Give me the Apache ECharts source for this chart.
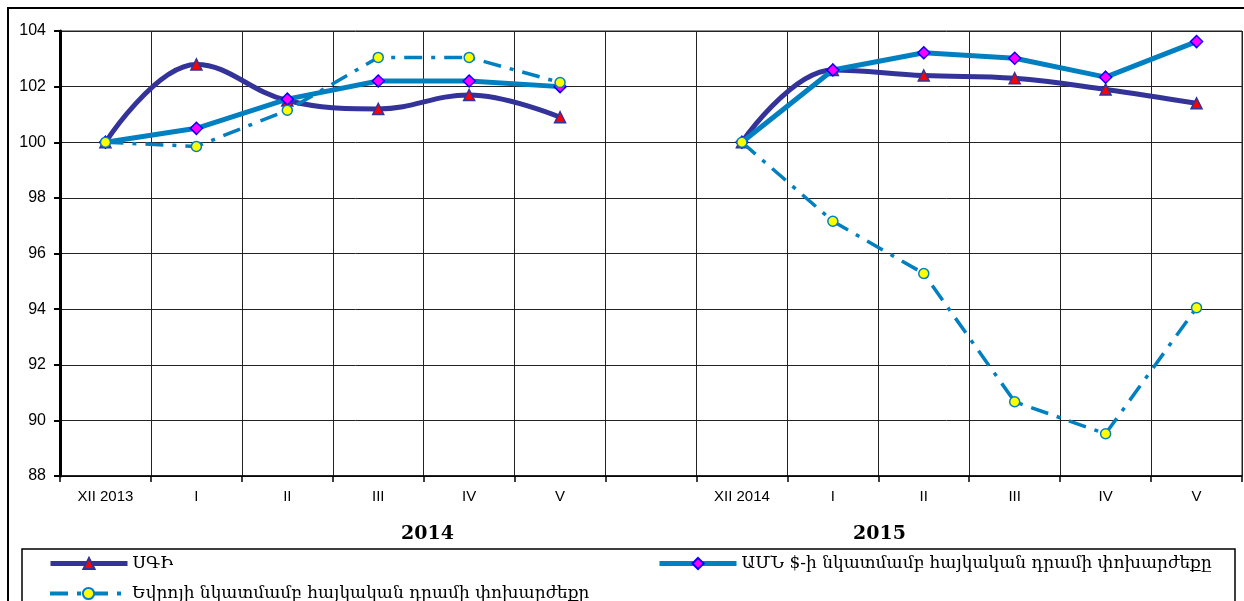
<!DOCTYPE html>
<html>
<head>
<meta charset="utf-8">
<script src="https://cdn.jsdelivr.net/npm/echarts@6/dist/echarts.min.js"></script>
<style>
html,body{margin:0;padding:0;background:#fff;}
#c{width:1244px;height:601px;}
</style>
</head>
<body>
<div id="c"></div>
<script>
var categories = ['XII 2013', 'I', 'II', 'III', 'IV', 'V', '', 'XII 2014', 'I', 'II', 'III', 'IV', 'V'];
var cpiName = 'ՍԳԻ';
var usdName = 'ԱՄՆ $-ի նկատմամբ հայկական դրամի փոխարժեքը';
var eurName = 'Եվրոյի նկատմամբ հայկական դրամի փոխարժեքը';
var cpiValues = [100, 102.8, 101.5, 101.2, 101.7, 100.9, null, 100, 102.6, 102.4, 102.3, 101.9, 101.4];
var usdValues = [100, 100.5, 101.55, 102.2, 102.2, 102.0, null, 100, 102.6, 103.22, 103.02, 102.34, 103.62];
var eurValues = [100, 99.85, 101.15, 103.05, 103.05, 102.15, null, 100, 97.16, 95.28, 90.67, 89.52, 94.05];
var yearLabels = ['2014', '2015'];

var chart = echarts.init(document.getElementById('c'));
var legendFont = {fontFamily: 'DejaVu Serif', fontSize: 17, color: '#000'};
var option = {
  animation: false,
  backgroundColor: '#fff',
  grid: {left: 60, right: 2, top: 31, bottom: 125, show: true, borderColor: '#222', borderWidth: 1},
  xAxis: {
    type: 'category',
    data: categories,
    boundaryGap: true,
    axisLine: {show: true, lineStyle: {color: '#000', width: 1.5}},
    axisTick: {show: true, interval: 0, length: 6, lineStyle: {color: '#000', width: 1.5}},
    axisLabel: {interval: 0, fontFamily: 'Liberation Sans Narrow, Liberation Sans', fontSize: 15, color: '#000', margin: 13},
    splitLine: {show: true, interval: 0, lineStyle: {color: '#222', width: 1}}
  },
  yAxis: {
    type: 'value',
    min: 88, max: 104, interval: 2,
    axisLine: {show: true, lineStyle: {color: '#000', width: 3}},
    axisTick: {show: true, length: 6, lineStyle: {color: '#000', width: 2}},
    axisLabel: {fontFamily: 'Liberation Sans', fontSize: 16, color: '#000', margin: 14},
    splitLine: {show: true, lineStyle: {color: '#222', width: 1}}
  },
  legend: [
    {data: [cpiName], left: 48, top: 555, padding: 0, itemWidth: 77, itemHeight: 14, textStyle: legendFont, lineStyle: {width: 5}},
    {data: [usdName], left: 657, top: 555, padding: 0, itemWidth: 77, itemHeight: 14, textStyle: legendFont, lineStyle: {width: 5}},
    {data: [eurName], left: 48, top: 585, padding: 0, itemWidth: 77, itemHeight: 14, textStyle: legendFont, lineStyle: {width: 4}}
  ],
  graphic: [
    {type: 'rect', shape: {x: 8, y: 8, width: 1250, height: 620}, style: {fill: null, stroke: '#000', lineWidth: 2}, silent: true},
    {type: 'rect', shape: {x: 22, y: 549, width: 1213, height: 80}, style: {fill: null, stroke: '#000', lineWidth: 1.5}, silent: true},
    {type: 'text', left: 401, top: 525, style: {text: yearLabels[0], font: 'bold 19px "DejaVu Serif"', fill: '#000'}},
    {type: 'text', left: 853, top: 525, style: {text: yearLabels[1], font: 'bold 19px "DejaVu Serif"', fill: '#000'}}
  ],
  series: [
    {
      name: cpiName, type: 'line', data: cpiValues, smooth: 0.4, connectNulls: false,
      symbol: 'triangle', symbolSize: 11,
      lineStyle: {color: '#333399', width: 5},
      itemStyle: {color: '#FF0000', borderColor: '#333399', borderWidth: 1.5},
      z: 2
    },
    {
      name: usdName, type: 'line', data: usdValues, connectNulls: false,
      symbol: 'diamond', symbolSize: 12,
      lineStyle: {color: '#0080C0', width: 5},
      itemStyle: {color: '#FF00FF', borderColor: '#0000FF', borderWidth: 1.5},
      z: 3
    },
    {
      name: eurName, type: 'line', data: eurValues, connectNulls: false,
      symbol: 'circle', symbolSize: 10,
      lineStyle: {color: '#0080C0', width: 3.5, type: [18, 9, 4, 9]},
      itemStyle: {color: '#FFFF00', borderColor: '#0080C0', borderWidth: 1.5},
      z: 4
    }
  ]
};
chart.setOption(option);
</script>
</body>
</html>
